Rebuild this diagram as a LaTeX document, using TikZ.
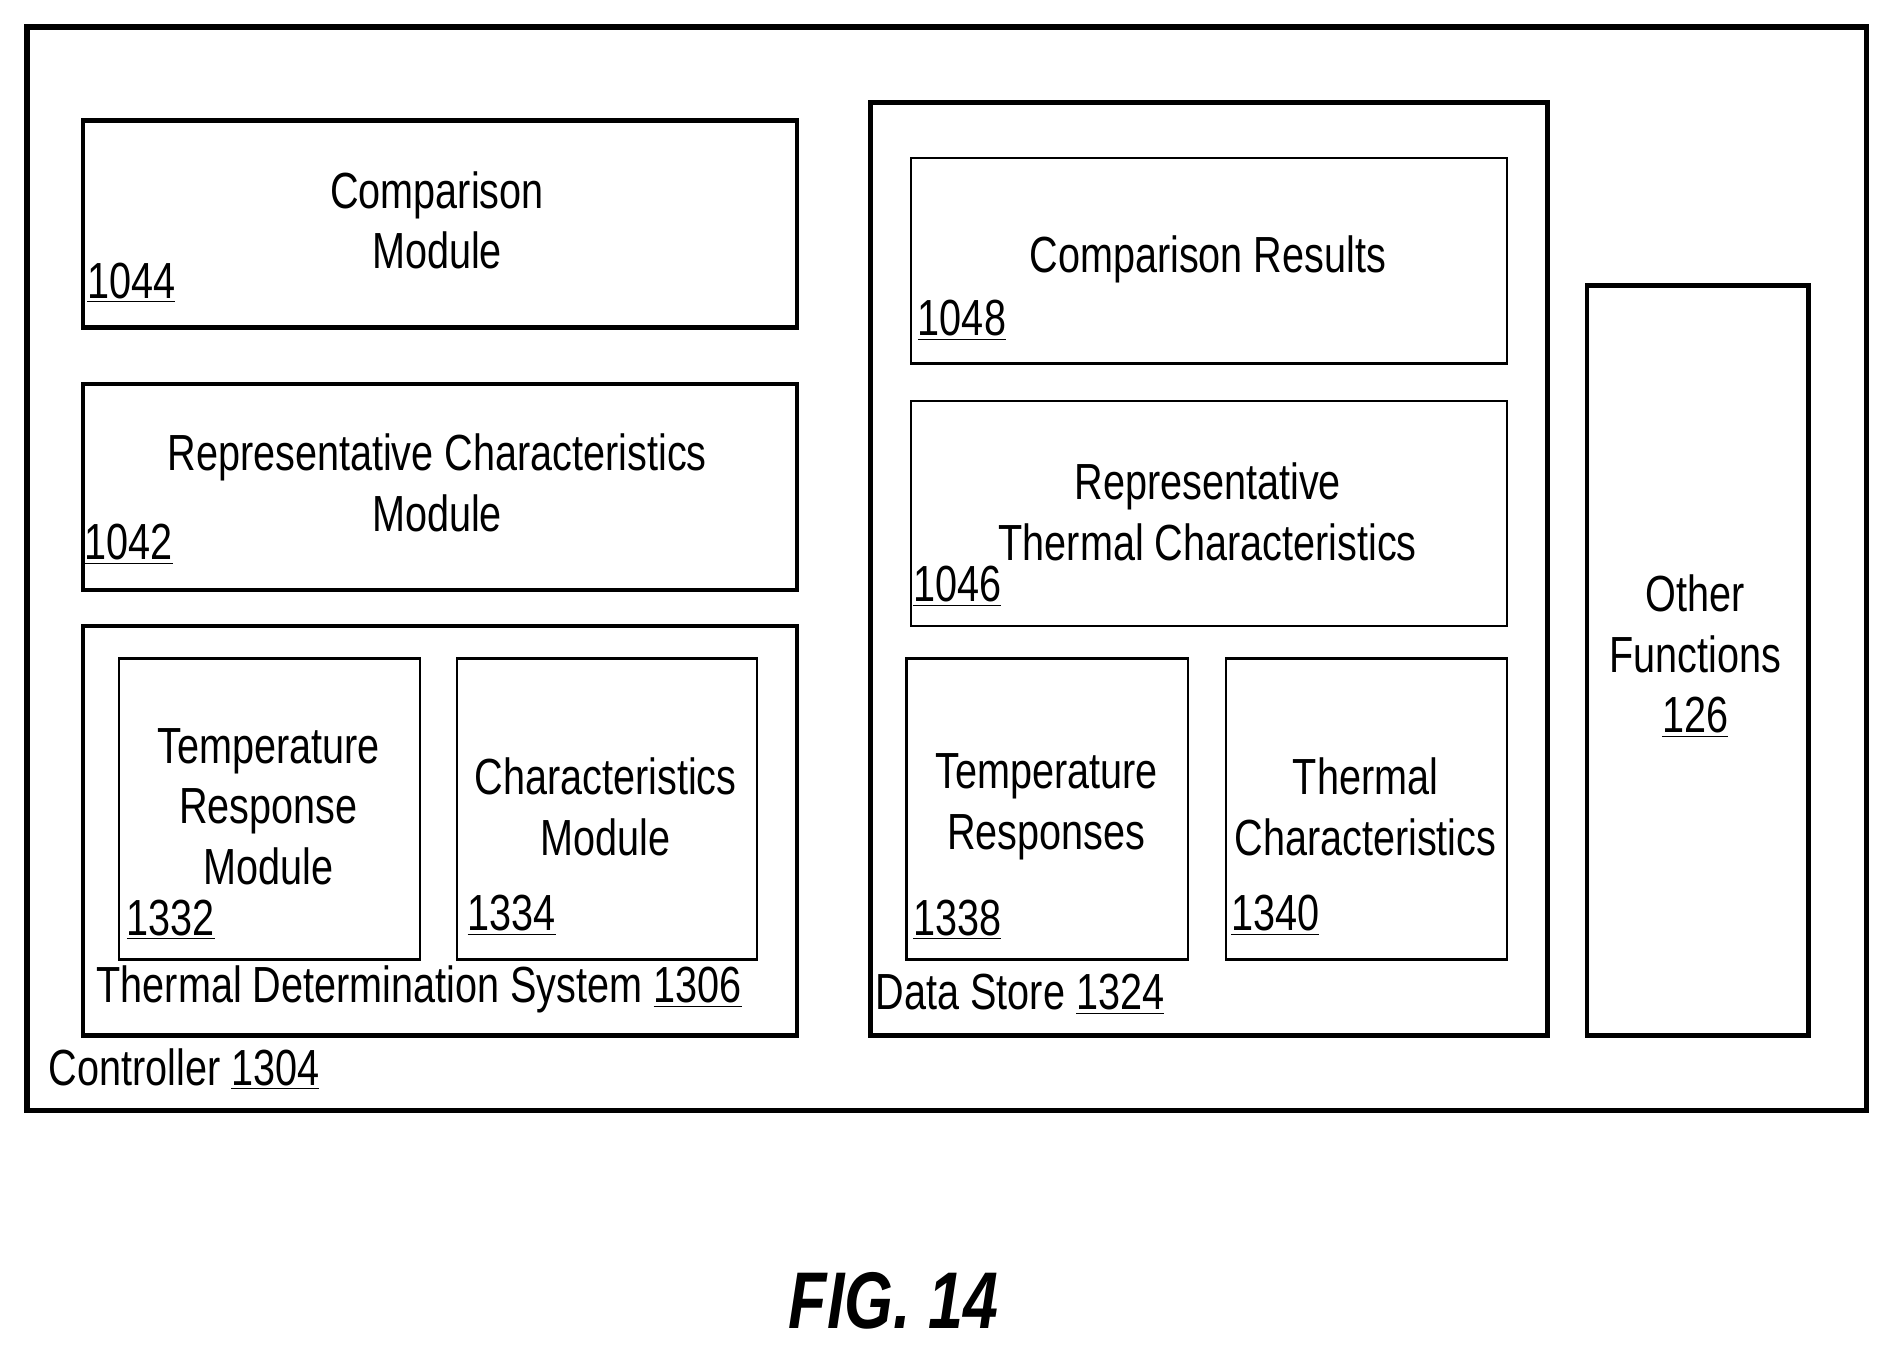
\documentclass[tikz,border=0pt]{standalone}
\usepackage{fontspec}
\setmainfont{Liberation Sans}[FakeStretch=0.78]
\usepackage{tikz}
\begin{document}
\begin{tikzpicture}[x=0.02cm,y=-0.02cm,
  box/.style={draw, line width=2.2pt, inner sep=0pt, anchor=north west},
  sub/.style={draw, line width=1pt, inner sep=0pt, anchor=north west},
  txt/.style={font=\fontsize{24}{28.5}\selectfont, align=center, inner sep=0pt},
  num/.style={font=\fontsize{24}{28.5}\selectfont, inner sep=0pt, anchor=west}]
%1. 外框
\useasboundingbox (0,0) rectangle (1568,1121);
\node[box, line width=2.6pt, minimum width=1528*0.02cm, minimum height=900*0.02cm] (ctrl) at (20,20) {};
\node[num] (ctrlL) at (40,888) {Controller \underline{1304}};
%2. 左侧模块
\node[box, minimum width=593*0.02cm, minimum height=172*0.02cm] (cmp) at (67,98) {};
\node[txt] (cmpT) at (363,183) {Comparison\\Module};
\node[num] (cmpN) at (72,235) {\underline{1044}};
\node[box, minimum width=593*0.02cm, minimum height=171*0.02cm] (rep) at (67,317) {};
\node[txt] (repT) at (363,401) {Representative Characteristics\\Module};
\node[num] (repN) at (70,452) {\underline{1042}};
\node[box, minimum width=593*0.02cm, minimum height=340*0.02cm] (tds) at (67,518) {};
\node[num] (tdsL) at (80,822) {Thermal Determination System \underline{1306}};
\node[sub, minimum width=250*0.02cm, minimum height=250*0.02cm] (trm) at (98,546) {};
\node[txt] (trmT) at (223,670) {Temperature\\Response\\Module};
\node[num] (trmN) at (105,764) {\underline{1332}};
\node[sub, minimum width=249*0.02cm, minimum height=250*0.02cm] (chm) at (379,546) {};
\node[txt] (chmT) at (503,670) {Characteristics\\Module};
\node[num] (chmN) at (388,760) {\underline{1334}};
%3. 数据存储
\node[box, minimum width=562*0.02cm, minimum height=775*0.02cm] (ds) at (721,83) {};
\node[num] (dsL) at (727,826) {Data Store \underline{1324}};
\node[sub, minimum width=495*0.02cm, minimum height=171*0.02cm] (cr) at (756,130) {};
\node[txt] (crT) at (1003,215) {Comparison Results};
\node[num] (crN) at (762,266) {\underline{1048}};
\node[sub, minimum width=495*0.02cm, minimum height=187*0.02cm] (rtc) at (756,332) {};
\node[txt] (rtcT) at (1003,425) {Representative\\Thermal Characteristics};
\node[num] (rtcN) at (758,487) {\underline{1046}};
\node[sub, minimum width=234*0.02cm, minimum height=250*0.02cm] (tr) at (752,546) {};
\node[txt] (trT) at (869,670) {Temperature\\Responses};
\node[num] (trN) at (758,764) {\underline{1338}};
\node[sub, minimum width=234*0.02cm, minimum height=250*0.02cm] (tc) at (1017,546) {};
\node[txt] (tcT) at (1134,670) {Thermal\\Characteristics};
\node[num] (tcN) at (1022,760) {\underline{1340}};
%4. 其他功能
\node[box, minimum width=184*0.02cm, minimum height=623*0.02cm] (of) at (1316,235) {};
\node[txt] (ofT) at (1408,545) {Other\\Functions\\\underline{126}};
%5. 图号
\node[font=\fontsize{38}{42}\selectfont\bfseries\itshape, inner sep=0pt] (fig) at (742,1080) {FIG. 14};
\end{tikzpicture}
\end{document}
